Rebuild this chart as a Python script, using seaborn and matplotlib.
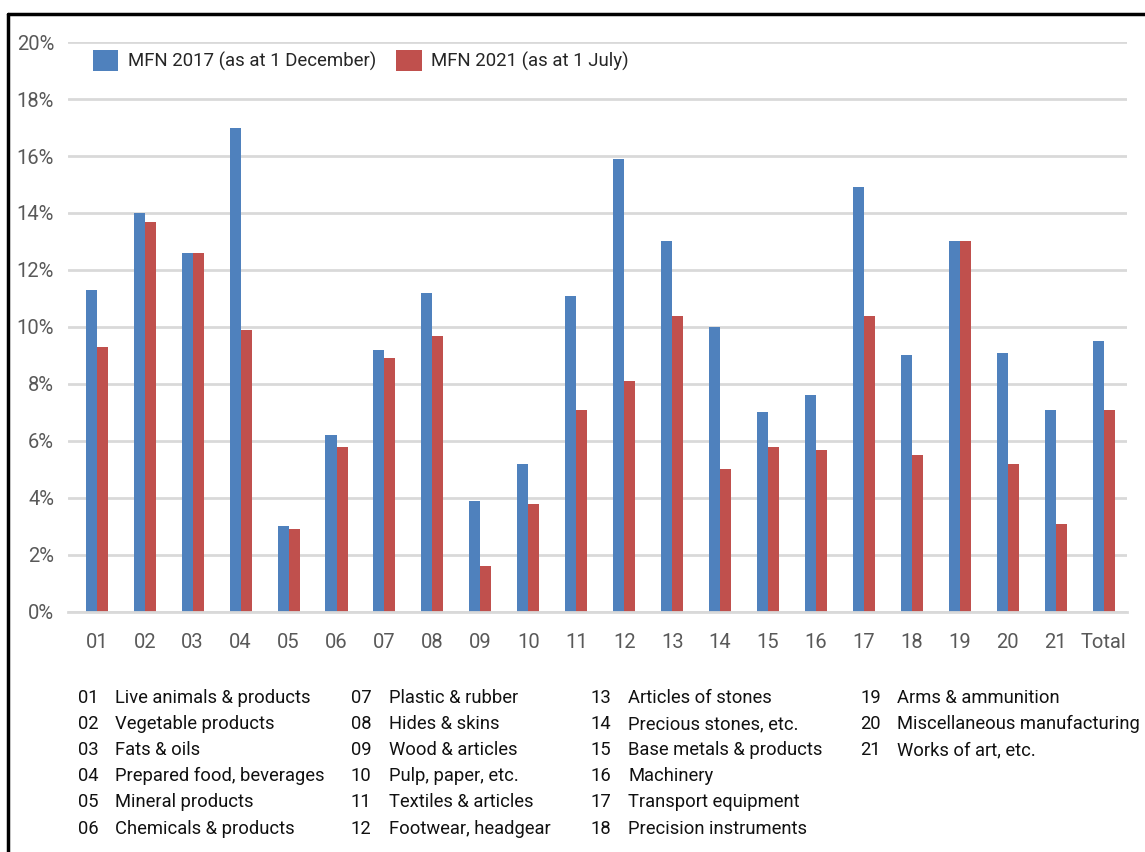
import numpy as np
import pandas as pd
import matplotlib.pyplot as plt
from matplotlib.lines import Line2D
import seaborn as sns

# ---- data ----
codes = ['01', '02', '03', '04', '05', '06', '07', '08', '09', '10', '11',
         '12', '13', '14', '15', '16', '17', '18', '19', '20', '21', 'Total']
mfn_2017 = [11.3, 14.0, 12.6, 17.0, 3.0, 6.2, 9.2, 11.2, 3.9, 5.2, 11.1,
            15.9, 13.0, 10.0, 7.0, 7.6, 14.9, 9.0, 13.0, 9.1, 7.1, 9.5]
mfn_2021 = [9.3, 13.7, 12.6, 9.9, 2.9, 5.8, 8.9, 9.7, 1.6, 3.8, 7.1,
            8.1, 10.4, 5.0, 5.8, 5.7, 10.4, 5.5, 13.0, 5.2, 3.1, 7.1]
series_names = ['MFN 2017 (as at 1 December)', 'MFN 2021 (as at 1 July)']
section_names = ['Live animals & products', 'Vegetable products', 'Fats & oils',
                 'Prepared food, beverages', 'Mineral products', 'Chemicals & products',
                 'Plastic & rubber', 'Hides & skins', 'Wood & articles',
                 'Pulp, paper, etc.', 'Textiles & articles', 'Footwear, headgear',
                 'Articles of stones', 'Precious stones, etc.', 'Base metals & products',
                 'Machinery', 'Transport equipment', 'Precision instruments',
                 'Arms & ammunition', 'Miscellaneous manufacturing', 'Works of art, etc.']

df = pd.DataFrame({
    'code': codes * 2,
    'rate': mfn_2017 + mfn_2021,
    'series': [series_names[0]] * len(codes) + [series_names[1]] * len(codes),
})

sns.set_style('white')
plt.rcParams['font.family'] = ['Roboto', 'DejaVu Sans']

fig = plt.figure(figsize=(11.45, 8.52), dpi=100)
ax = fig.add_axes([0.0594, 0.2817, 0.9246, 0.669])

palette = {series_names[0]: '#4F81BD', series_names[1]: '#C0504D'}
sns.barplot(data=df, x='code', y='rate', hue='series', palette=palette,
            width=0.46, gap=0, ax=ax, saturation=1, linewidth=0)

ax.set_ylim(0, 20)
ax.set_xlim(-0.6, 21.48)
ax.set_yticks(np.arange(0, 21, 2))
ax.set_yticklabels([f'{v}%' for v in range(0, 21, 2)])
ax.yaxis.grid(True, color='#D9D9D9', lw=2)
ax.set_axisbelow(True)
for s in ['top', 'right', 'left']:
    ax.spines[s].set_visible(False)
ax.spines['bottom'].set_color('#D9D9D9')
ax.spines['bottom'].set_linewidth(2)
ax.tick_params(axis='both', length=0, labelsize=14.5, colors='#595959')
ax.tick_params(axis='x', pad=15)
ax.tick_params(axis='y', pad=10)
ax.set_xlabel('')
ax.set_ylabel('')

ax.legend(loc='upper left', bbox_to_anchor=(0.008, 1.0145), ncol=2, frameon=False,
          fontsize=13.4, handlelength=1.35, handleheight=1.35, columnspacing=1.1,
          handletextpad=0.5)

# section key below the chart
col_code_x = [78, 351, 590, 860]
col_name_x = [115, 389, 628, 897]
row_y = [698, 724, 750, 776, 802, 829]
for i, name in enumerate(section_names):
    col, row = divmod(i, 6)
    y = 1 - row_y[row] / 852
    fig.text(col_code_x[col] / 1145, y, codes[i], fontsize=13.2, color='#111111', va='center')
    fig.text(col_name_x[col] / 1145, y, name, fontsize=13.2, color='#111111', va='center')

# black frame on top and left
fig.add_artist(Line2D([8 / 1145, 1], [1 - 14 / 852, 1 - 14 / 852], color='black', lw=2.5))
fig.add_artist(Line2D([8 / 1145, 8 / 1145], [0, 1 - 14 / 852], color='black', lw=2.5))

fig.savefig('out.png', dpi=100)
